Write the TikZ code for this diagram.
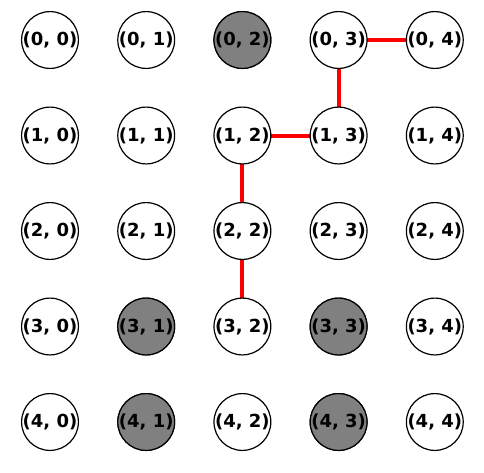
\documentclass[tikz,border=0pt]{standalone}
\usepackage{fontspec}
\setmainfont{DejaVu Sans}
\begin{document}
\begin{tikzpicture}[x=0.75pt,y=-0.75pt,
  cell/.style={circle,draw=black,line width=0.9pt,minimum size=40.5pt,inner sep=0pt,fill=white,font=\bfseries\fontsize{13.5}{15}\selectfont},
  blocked/.style={cell,fill=gray},
  path/.style={draw=red,line width=3pt}]
\useasboundingbox (0,0) rectangle (484,472);
\foreach \r in {0,...,4}{
  \foreach \c in {0,...,4}{
    \coordinate (p\r\c) at ({50+96.2*\c},{40+95.5*\r});
  }
}
\draw[path] (p03) -- (p04);
\draw[path] (p03) -- (p13);
\draw[path] (p13) -- (p12);
\draw[path] (p12) -- (p22);
\draw[path] (p22) -- (p32);
\foreach \r in {0,...,4}{
  \foreach \c in {0,...,4}{
    \node[cell] (n\r\c) at (p\r\c) {(\r, \c)};
  }
}
\foreach \r/\c in {0/2,3/1,3/3,4/1,4/3}{
  \node[blocked] (b\r\c) at (p\r\c) {(\r, \c)};
}
\end{tikzpicture}
\end{document}
